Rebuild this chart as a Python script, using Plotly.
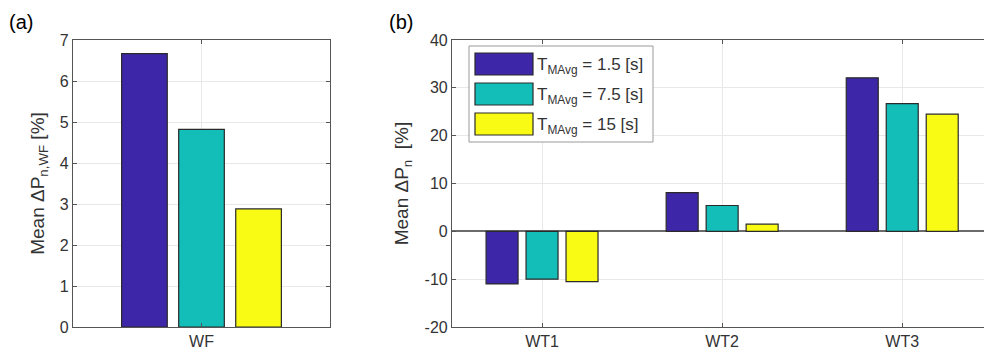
import plotly.graph_objects as go
from plotly.subplots import make_subplots

# Data
wf_categories = ["WF"]
wt_categories = ["WT1", "WT2", "WT3"]
t_mavg = ["1.5", "7.5", "15"]
wf_values = [[6.67], [4.82], [2.88]]
wt_values = [
    [-11.0, 8.1, 32.1],
    [-10.0, 5.4, 26.7],
    [-10.5, 1.5, 24.5],
]
wf_ticks = [0, 1, 2, 3, 4, 5, 6, 7]
wt_ticks = [-20, -10, 0, 10, 20, 30, 40]
colors = ["#3E26A8", "#13BEB8", "#F9FB15"]

W, H = 984, 359
FONT = "Liberation Sans, Arial, sans-serif"
TXT = "#333333"
GRID = "#E8E8E8"
AX = "#555555"


def px_x(p):
    return p / W


def px_y(p):
    return 1 - p / H


fig = make_subplots(rows=1, cols=2)

for i, c in enumerate(colors):
    fig.add_trace(go.Bar(x=wf_categories, y=wf_values[i], marker=dict(color=c, line=dict(color="#2a2a2a", width=1.2)),
                         showlegend=False), row=1, col=1)
    fig.add_trace(go.Bar(x=wt_categories, y=wt_values[i], marker=dict(color=c, line=dict(color="#2a2a2a", width=1.2)),
                         showlegend=False), row=1, col=2)

axis_common = dict(showline=True, linecolor=AX, linewidth=1.2, showgrid=True, gridcolor=GRID, gridwidth=1,
                   ticks="inside", ticklen=4, tickcolor=AX, tickfont=dict(family=FONT, size=16, color=TXT),
                   zeroline=False, automargin=False)

fig.update_layout(
    width=W, height=H, margin=dict(l=0, r=0, t=0, b=0, autoexpand=False),
    plot_bgcolor="white", paper_bgcolor="white",
    barmode="group", bargap=0.334, bargroupgap=0.2,
    font=dict(family=FONT, color=TXT),
    xaxis=dict(domain=[px_x(73), px_x(330)], range=[-0.5, 0.5], mirror="ticks", **axis_common),
    yaxis=dict(domain=[px_y(327), px_y(40)], range=[0, 7], tickvals=wf_ticks,
               ticktext=[str(t) for t in wf_ticks], mirror="ticks",
               title=dict(text="Mean ΔP<sub>n,WF</sub> [%]", font=dict(family=FONT, size=19, color=TXT), standoff=10),
               **axis_common),
    xaxis2=dict(domain=[px_x(452), 1.0], range=[-0.5, 2.454], mirror="ticks", **axis_common),
    yaxis2=dict(domain=[px_y(327), px_y(40)], range=[-20, 40], tickvals=wt_ticks,
                ticktext=[str(t) for t in wt_ticks], mirror=False,
                title=dict(text="Mean ΔP<sub>n</sub>  [%]", font=dict(family=FONT, size=19, color=TXT), standoff=10),
                **axis_common),
)
fig.update_yaxes(zeroline=True, zerolinecolor="#6b6b6b", zerolinewidth=1.5, row=1, col=2)
fig.update_yaxes(zeroline=False, row=1, col=1)

# Panel labels
fig.add_annotation(text="(a)", xref="paper", yref="paper", x=px_x(7), y=px_y(22), xanchor="left", yanchor="middle",
                   showarrow=False, font=dict(family=FONT, size=20, color="black"))
fig.add_annotation(text="(b)", xref="paper", yref="paper", x=px_x(387), y=px_y(22), xanchor="left", yanchor="middle",
                   showarrow=False, font=dict(family=FONT, size=20, color="black"))

# Legend box with large colour patches
fig.add_shape(type="rect", xref="paper", yref="paper", x0=px_x(469), x1=px_x(653), y0=px_y(142), y1=px_y(46),
              line=dict(color="#9a9a9a", width=1), fillcolor="white", layer="above")
row_tops = [53, 83, 113]
for i, c in enumerate(colors):
    top = row_tops[i]
    fig.add_shape(type="rect", xref="paper", yref="paper", x0=px_x(475), x1=px_x(533), y0=px_y(top + 22),
                  y1=px_y(top), line=dict(color="#2a2a2a", width=1.2), fillcolor=c, layer="above")
    fig.add_annotation(text=f"T<sub>MAvg</sub> = {t_mavg[i]} [s]", xref="paper", yref="paper",
                       x=px_x(535), y=px_y(top + 13), xanchor="left", yanchor="middle", showarrow=False,
                       font=dict(family=FONT, size=17, color=TXT))

fig.write_html("out.html")
